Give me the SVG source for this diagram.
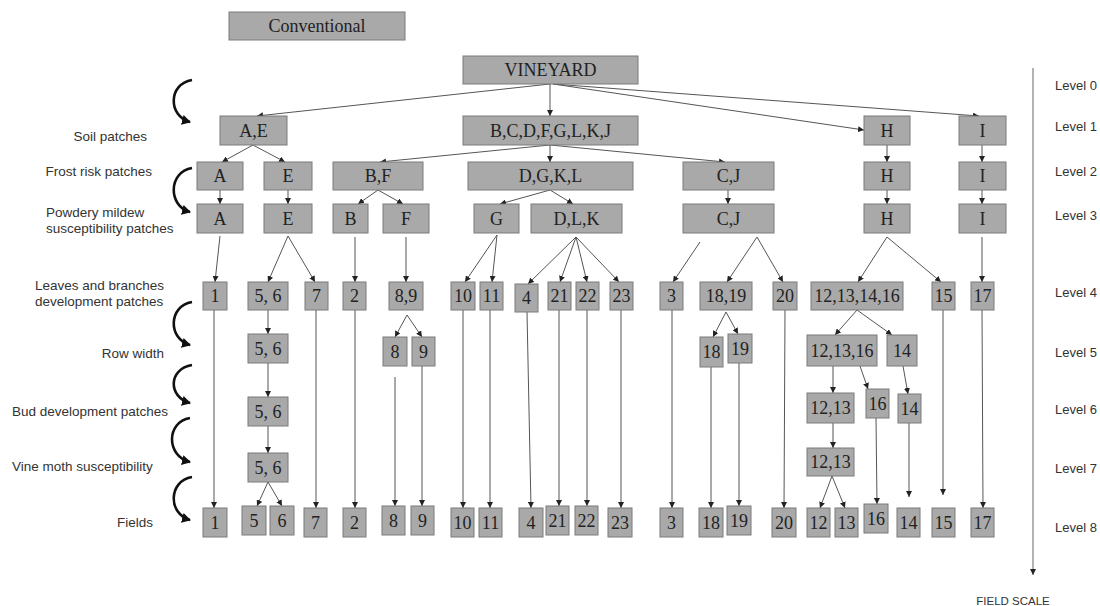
<svg xmlns="http://www.w3.org/2000/svg" width="1100" height="606" viewBox="0 0 1100 606">
<defs>
<marker id="ah" markerUnits="userSpaceOnUse" markerWidth="6" markerHeight="6" refX="6" refY="3" orient="auto"><path d="M0,0 L6,3 L0,6 z" fill="#222"/></marker>
<marker id="bh" markerUnits="userSpaceOnUse" markerWidth="10" markerHeight="10" refX="8" refY="5" orient="auto"><path d="M0,0 L9,5 L0,10 z" fill="#111"/></marker>
<style>
.n rect{fill:#a9a9a9;stroke:#7a7a7a;stroke-width:1}
.n text{font-family:"Liberation Serif",serif;font-size:18px;text-anchor:middle;fill:#222}
.c line{stroke:#555;stroke-width:1;marker-end:url(#ah)}
.cv path{fill:none;stroke:#111;stroke-width:2.6;marker-end:url(#bh)}
.lab{font-family:"Liberation Sans",Arial,sans-serif;font-size:13.5px;fill:#333}
.lv{font-family:"Liberation Sans",Arial,sans-serif;font-size:13px;fill:#333}
</style>
</defs>
<rect width="1100" height="606" fill="#fff"/>

<g id="title" class="n"><rect x="229" y="12" width="176" height="28"/><text x="317" y="32">Conventional</text></g>

<g id="labels-left">
<text class="lab" x="147" y="141" text-anchor="end">Soil patches</text>
<text class="lab" x="152" y="176" text-anchor="end">Frost risk patches</text>
<text class="lab" x="46" y="217">Powdery mildew</text>
<text class="lab" x="46" y="233">susceptibility patches</text>
<text class="lab" x="35" y="290">Leaves and branches</text>
<text class="lab" x="35" y="306">development patches</text>
<text class="lab" x="164" y="358" text-anchor="end">Row width</text>
<text class="lab" x="12" y="416">Bud development patches</text>
<text class="lab" x="12" y="471">Vine moth susceptibility</text>
<text class="lab" x="153" y="527" text-anchor="end">Fields</text>
</g>

<g id="levels">
<line x1="1033" y1="68" x2="1033" y2="575" stroke="#999" stroke-width="1.5" marker-end="url(#ah)"/>
<text class="lv" x="1055" y="90">Level 0</text>
<text class="lv" x="1055" y="131">Level 1</text>
<text class="lv" x="1055" y="176">Level 2</text>
<text class="lv" x="1055" y="220">Level 3</text>
<text class="lv" x="1055" y="297">Level 4</text>
<text class="lv" x="1055" y="357">Level 5</text>
<text class="lv" x="1055" y="414">Level 6</text>
<text class="lv" x="1055" y="473">Level 7</text>
<text class="lv" x="1055" y="532">Level 8</text>
<text x="1013" y="605" font-family="Liberation Sans,Arial,sans-serif" font-size="11.5" fill="#333" text-anchor="middle">FIELD SCALE</text>
</g>

<g id="curves" class="cv">
<path d="M192,80 C168,84 168,116 190,122"/>
<path d="M192,168 C168,172 168,206 190,212"/>
<path d="M192,302 C168,306 168,339 190,345"/>
<path d="M192,365 C168,369 168,397 190,403"/>
<path d="M190,418 C166,422 166,456 190,462"/>
<path d="M192,477 C168,481 168,514 190,520"/>
</g>

<g id="connectors" class="c">
<line x1="550" y1="84" x2="257" y2="116"/>
<line x1="550" y1="84" x2="550" y2="116"/>
<line x1="553" y1="84" x2="864" y2="130"/>
<line x1="553" y1="84" x2="979" y2="116"/>
<line x1="253" y1="145" x2="222" y2="162"/>
<line x1="253" y1="145" x2="285" y2="162"/>
<line x1="550" y1="145" x2="380" y2="162"/>
<line x1="550" y1="145" x2="550" y2="162"/>
<line x1="550" y1="145" x2="725" y2="162"/>
<line x1="887" y1="145" x2="887" y2="162"/>
<line x1="982" y1="145" x2="982" y2="162"/>
<line x1="220" y1="190" x2="220" y2="204"/>
<line x1="288" y1="190" x2="288" y2="204"/>
<line x1="378" y1="190" x2="358" y2="204"/>
<line x1="378" y1="190" x2="403" y2="204"/>
<line x1="550" y1="190" x2="500" y2="204"/>
<line x1="550" y1="190" x2="573" y2="204"/>
<line x1="728" y1="190" x2="728" y2="204"/>
<line x1="887" y1="190" x2="887" y2="204"/>
<line x1="982" y1="190" x2="982" y2="204"/>
<line x1="220" y1="236" x2="215" y2="282"/>
<line x1="288" y1="236" x2="268" y2="282"/>
<line x1="288" y1="236" x2="315" y2="282"/>
<line x1="355" y1="237" x2="355" y2="282"/>
<line x1="406" y1="237" x2="406" y2="282"/>
<line x1="497" y1="235" x2="465" y2="282"/>
<line x1="497" y1="235" x2="492" y2="282"/>
<line x1="576" y1="237" x2="528" y2="284"/>
<line x1="576" y1="237" x2="560" y2="282"/>
<line x1="576" y1="237" x2="587" y2="282"/>
<line x1="576" y1="237" x2="619" y2="282"/>
<line x1="700" y1="242" x2="673" y2="282"/>
<line x1="757" y1="237" x2="727" y2="282"/>
<line x1="757" y1="237" x2="783" y2="282"/>
<line x1="887" y1="237" x2="858" y2="282"/>
<line x1="887" y1="237" x2="941" y2="282"/>
<line x1="982" y1="237" x2="982" y2="282"/>
<line x1="268" y1="310" x2="268" y2="334"/>
<line x1="407" y1="315" x2="395" y2="337"/>
<line x1="407" y1="315" x2="422" y2="337"/>
<line x1="726" y1="312" x2="713" y2="337"/>
<line x1="726" y1="312" x2="738" y2="334"/>
<line x1="857" y1="310" x2="835" y2="335"/>
<line x1="857" y1="310" x2="892" y2="335"/>
<line x1="268" y1="363" x2="268" y2="397"/>
<line x1="833" y1="366" x2="833" y2="393"/>
<line x1="860" y1="366" x2="868" y2="389"/>
<line x1="903" y1="366" x2="908" y2="394"/>
<line x1="268" y1="426" x2="268" y2="453"/>
<line x1="833" y1="423" x2="833" y2="448"/>
<line x1="268" y1="482" x2="257" y2="506"/>
<line x1="268" y1="482" x2="282" y2="506"/>
<line x1="832" y1="476" x2="820" y2="508"/>
<line x1="832" y1="476" x2="845" y2="508"/>
<line x1="214" y1="310" x2="214" y2="508"/>
<line x1="316" y1="310" x2="316" y2="508"/>
<line x1="355" y1="310" x2="355" y2="508"/>
<line x1="395" y1="377" x2="395" y2="506"/>
<line x1="422" y1="366" x2="422" y2="506"/>
<line x1="463" y1="310" x2="463" y2="508"/>
<line x1="490" y1="310" x2="490" y2="508"/>
<line x1="527" y1="312" x2="531" y2="508"/>
<line x1="559" y1="310" x2="559" y2="506"/>
<line x1="587" y1="310" x2="587" y2="506"/>
<line x1="621" y1="310" x2="621" y2="508"/>
<line x1="672" y1="310" x2="672" y2="508"/>
<line x1="711" y1="367" x2="711" y2="508"/>
<line x1="739" y1="363" x2="739" y2="506"/>
<line x1="785" y1="310" x2="784" y2="508"/>
<line x1="876" y1="418" x2="877" y2="504"/>
<line x1="909" y1="423" x2="909" y2="497"/>
<line x1="943" y1="310" x2="943" y2="495"/>
<line x1="982" y1="310" x2="983" y2="508"/>
</g>

<g id="n-vineyard" class="n"><rect x="463" y="56" width="175" height="28"/><text x="550.5" y="76">VINEYARD</text></g>

<g id="n1-ae" class="n"><rect x="220" y="116" width="67" height="29"/><text x="253.5" y="137">A,E</text></g>
<g id="n1-bcd" class="n"><rect x="463" y="116" width="175" height="29"/><text x="550.5" y="137">B,C,D,F,G,L,K,J</text></g>
<g id="n1-h" class="n"><rect x="864" y="116" width="46" height="29"/><text x="887" y="137">H</text></g>
<g id="n1-i" class="n"><rect x="959" y="116" width="47" height="29"/><text x="982.5" y="137">I</text></g>

<g id="n2-a" class="n"><rect x="197" y="162" width="46" height="28"/><text x="220" y="182">A</text></g>
<g id="n2-e" class="n"><rect x="264" y="162" width="48" height="28"/><text x="288" y="182">E</text></g>
<g id="n2-bf" class="n"><rect x="333" y="162" width="90" height="28"/><text x="378" y="182">B,F</text></g>
<g id="n2-dgkl" class="n"><rect x="468" y="162" width="165" height="28"/><text x="550.5" y="182">D,G,K,L</text></g>
<g id="n2-cj" class="n"><rect x="683" y="162" width="91" height="28"/><text x="728.5" y="182">C,J</text></g>
<g id="n2-h" class="n"><rect x="864" y="162" width="46" height="28"/><text x="887" y="182">H</text></g>
<g id="n2-i" class="n"><rect x="959" y="162" width="47" height="28"/><text x="982.5" y="182">I</text></g>

<g id="n3-a" class="n"><rect x="197" y="204" width="46" height="29"/><text x="220" y="225">A</text></g>
<g id="n3-e" class="n"><rect x="264" y="204" width="48" height="29"/><text x="288" y="225">E</text></g>
<g id="n3-b" class="n"><rect x="333" y="204" width="35" height="29"/><text x="350.5" y="225">B</text></g>
<g id="n3-f" class="n"><rect x="383" y="204" width="46" height="29"/><text x="406" y="225">F</text></g>
<g id="n3-g" class="n"><rect x="474" y="204" width="45" height="29"/><text x="496.5" y="225">G</text></g>
<g id="n3-dlk" class="n"><rect x="531" y="204" width="91" height="29"/><text x="576.5" y="225">D,L,K</text></g>
<g id="n3-cj" class="n"><rect x="683" y="204" width="91" height="29"/><text x="728.5" y="225">C,J</text></g>
<g id="n3-h" class="n"><rect x="864" y="204" width="46" height="29"/><text x="887" y="225">H</text></g>
<g id="n3-i" class="n"><rect x="959" y="204" width="47" height="29"/><text x="982.5" y="225">I</text></g>

<g id="n4-1" class="n"><rect x="203" y="282" width="24" height="28"/><text x="215" y="302">1</text></g>
<g id="n4-56" class="n"><rect x="248" y="282" width="40" height="28"/><text x="268" y="302">5, 6</text></g>
<g id="n4-7" class="n"><rect x="305" y="282" width="23" height="28"/><text x="316.5" y="302">7</text></g>
<g id="n4-2" class="n"><rect x="343" y="282" width="23" height="28"/><text x="354.5" y="302">2</text></g>
<g id="n4-89" class="n"><rect x="389" y="282" width="34" height="28"/><text x="406" y="302">8,9</text></g>
<g id="n4-10" class="n"><rect x="451" y="282" width="24" height="28"/><text x="463" y="302">10</text></g>
<g id="n4-11" class="n"><rect x="480" y="282" width="23" height="28"/><text x="491.5" y="302">11</text></g>
<g id="n4-4" class="n"><rect x="515" y="284" width="23" height="28"/><text x="526.5" y="304">4</text></g>
<g id="n4-21" class="n"><rect x="548" y="282" width="23" height="28"/><text x="559.5" y="302">21</text></g>
<g id="n4-22" class="n"><rect x="576" y="282" width="23" height="28"/><text x="587.5" y="302">22</text></g>
<g id="n4-23" class="n"><rect x="610" y="282" width="23" height="28"/><text x="621.5" y="302">23</text></g>
<g id="n4-3" class="n"><rect x="660" y="282" width="23" height="28"/><text x="671.5" y="302">3</text></g>
<g id="n4-1819" class="n"><rect x="700" y="282" width="52" height="28"/><text x="726" y="302">18,19</text></g>
<g id="n4-20" class="n"><rect x="773" y="282" width="24" height="28"/><text x="785" y="302">20</text></g>
<g id="n4-12131416" class="n"><rect x="811" y="282" width="92" height="28"/><text x="857" y="302">12,13,14,16</text></g>
<g id="n4-15" class="n"><rect x="932" y="282" width="23" height="28"/><text x="943.5" y="302">15</text></g>
<g id="n4-17" class="n"><rect x="971" y="282" width="23" height="28"/><text x="982.5" y="302">17</text></g>

<g id="n5-56" class="n"><rect x="248" y="334" width="40" height="29"/><text x="268" y="355">5, 6</text></g>
<g id="n5-8" class="n"><rect x="383" y="337" width="24" height="29"/><text x="395" y="358">8</text></g>
<g id="n5-9" class="n"><rect x="412" y="337" width="23" height="29"/><text x="423.5" y="358">9</text></g>
<g id="n5-18" class="n"><rect x="700" y="337" width="23" height="30"/><text x="711.5" y="358">18</text></g>
<g id="n5-19" class="n"><rect x="728" y="334" width="24" height="29"/><text x="740" y="355">19</text></g>
<g id="n5-121316" class="n"><rect x="807" y="335" width="70" height="31"/><text x="842" y="357">12,13,16</text></g>
<g id="n5-14" class="n"><rect x="887" y="335" width="30" height="31"/><text x="902" y="357">14</text></g>

<g id="n6-56" class="n"><rect x="248" y="397" width="40" height="29"/><text x="268" y="418">5, 6</text></g>
<g id="n6-1213" class="n"><rect x="807" y="393" width="47" height="30"/><text x="830.5" y="414">12,13</text></g>
<g id="n6-16" class="n"><rect x="866" y="389" width="23" height="29"/><text x="877.5" y="410">16</text></g>
<g id="n6-14" class="n"><rect x="898" y="394" width="23" height="29"/><text x="909.5" y="415">14</text></g>

<g id="n7-56" class="n"><rect x="248" y="453" width="40" height="29"/><text x="268" y="474">5, 6</text></g>
<g id="n7-1213" class="n"><rect x="807" y="448" width="47" height="28"/><text x="830.5" y="468">12,13</text></g>

<g id="n8-1" class="n"><rect x="203" y="508" width="24" height="29"/><text x="215" y="529">1</text></g>
<g id="n8-5" class="n"><rect x="242" y="506" width="24" height="29"/><text x="254" y="527">5</text></g>
<g id="n8-6" class="n"><rect x="270" y="506" width="24" height="29"/><text x="282" y="527">6</text></g>
<g id="n8-7" class="n"><rect x="304" y="508" width="23" height="29"/><text x="315.5" y="529">7</text></g>
<g id="n8-2" class="n"><rect x="343" y="508" width="23" height="29"/><text x="354.5" y="529">2</text></g>
<g id="n8-8" class="n"><rect x="382" y="506" width="23" height="29"/><text x="393.5" y="527">8</text></g>
<g id="n8-9" class="n"><rect x="411" y="506" width="23" height="29"/><text x="422.5" y="527">9</text></g>
<g id="n8-10" class="n"><rect x="451" y="508" width="23" height="29"/><text x="462.5" y="529">10</text></g>
<g id="n8-11" class="n"><rect x="479" y="508" width="23" height="29"/><text x="490.5" y="529">11</text></g>
<g id="n8-4" class="n"><rect x="519" y="508" width="24" height="29"/><text x="531" y="529">4</text></g>
<g id="n8-21" class="n"><rect x="546" y="506" width="23" height="29"/><text x="557.5" y="527">21</text></g>
<g id="n8-22" class="n"><rect x="575" y="506" width="23" height="29"/><text x="586.5" y="527">22</text></g>
<g id="n8-23" class="n"><rect x="608" y="508" width="24" height="29"/><text x="620" y="529">23</text></g>
<g id="n8-3" class="n"><rect x="660" y="508" width="23" height="29"/><text x="671.5" y="529">3</text></g>
<g id="n8-18" class="n"><rect x="699" y="508" width="24" height="29"/><text x="711" y="529">18</text></g>
<g id="n8-19" class="n"><rect x="727" y="506" width="24" height="29"/><text x="739" y="527">19</text></g>
<g id="n8-20" class="n"><rect x="772" y="508" width="24" height="29"/><text x="784" y="529">20</text></g>
<g id="n8-12" class="n"><rect x="807" y="508" width="23" height="29"/><text x="818.5" y="529">12</text></g>
<g id="n8-13" class="n"><rect x="835" y="508" width="23" height="29"/><text x="846.5" y="529">13</text></g>
<g id="n8-16" class="n"><rect x="864" y="504" width="24" height="29"/><text x="876" y="525">16</text></g>
<g id="n8-14" class="n"><rect x="897" y="508" width="23" height="29"/><text x="908.5" y="529">14</text></g>
<g id="n8-15" class="n"><rect x="932" y="508" width="23" height="29"/><text x="943.5" y="529">15</text></g>
<g id="n8-17" class="n"><rect x="971" y="508" width="23" height="29"/><text x="982.5" y="529">17</text></g>
</svg>
